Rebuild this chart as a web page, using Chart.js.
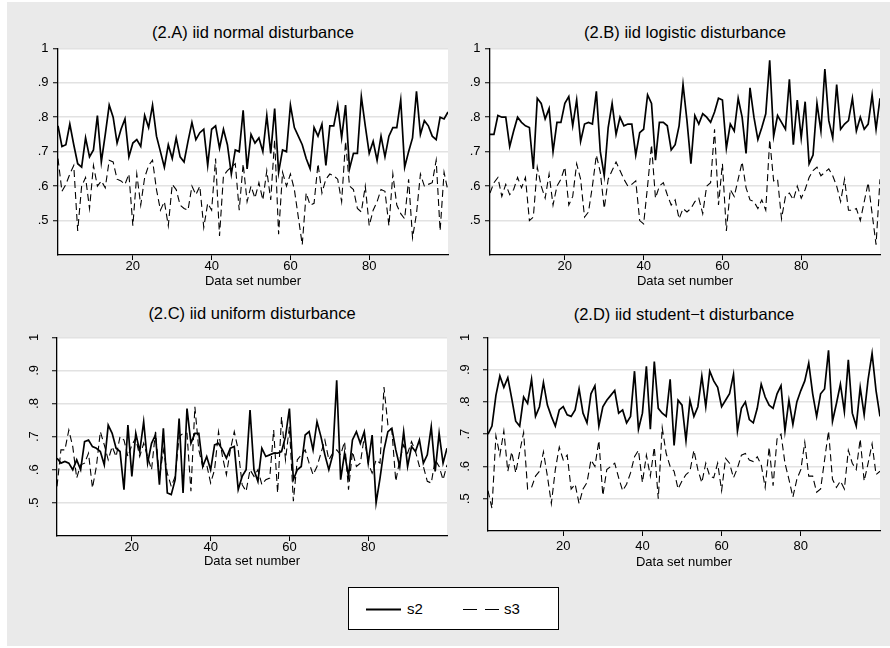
<!DOCTYPE html>
<html lang="en">
<head>
  <meta charset="UTF-8">
  <title>iid disturbances: s2 and s3 by data set</title>
  <script src="https://cdn.jsdelivr.net/npm/chart.js"></script>
  <style>
    body { margin: 0; background: #fff; font-family: "Liberation Sans", Arial, sans-serif; }
    #frame { position: absolute; left: 7px; top: 2px; width: 883px; height: 644px; background: #eaeaea; }
    canvas { position: absolute; }
    .ttl { position: absolute; width: 400px; text-align: center; font-size: 16.5px; line-height: 20px; color: #000; }
    #legend { position: absolute; left: 348px; top: 587px; width: 209px; height: 41px; background: #fff; border: 1.5px solid #000; }
    #legend svg { position: absolute; left: 0; top: 0; }
    #legend span { position: absolute; top: 12px; font-size: 15px; line-height: 18px; }
  </style>
</head>
<body>
  <div id="frame"></div>

  <div class="ttl" style="left:53px;top:22px">(2.A) iid normal disturbance</div>
  <div class="ttl" style="left:485px;top:22px">(2.B) iid logistic disturbance</div>
  <div class="ttl" style="left:52px;top:303px">(2.C) iid uniform disturbance</div>
  <div class="ttl" style="left:484px;top:304px">(2.D) iid student&#8722;t disturbance</div>

  <canvas id="chartA"></canvas>
  <canvas id="chartB"></canvas>
  <canvas id="chartC"></canvas>
  <canvas id="chartD"></canvas>

  <div id="legend">
    <svg width="209" height="41">
      <line x1="17" y1="21.5" x2="52" y2="21.5" stroke="#000" stroke-width="1.8"></line>
      <line x1="114" y1="21.5" x2="150" y2="21.5" stroke="#000" stroke-width="1.1" stroke-dasharray="14 8"></line>
    </svg>
    <span style="left:58px">s2</span>
    <span style="left:155px">s3</span>
  </div>

  <script>
    // data set number 1..100
    const dataSetNo = [
      1, 2, 3, 4, 5, 6, 7, 8, 9, 10, 11, 12, 13, 14, 15, 16, 17, 18, 19, 20,
      21, 22, 23, 24, 25, 26, 27, 28, 29, 30, 31, 32, 33, 34, 35, 36, 37, 38, 39, 40,
      41, 42, 43, 44, 45, 46, 47, 48, 49, 50, 51, 52, 53, 54, 55, 56, 57, 58, 59, 60,
      61, 62, 63, 64, 65, 66, 67, 68, 69, 70, 71, 72, 73, 74, 75, 76, 77, 78, 79, 80,
      81, 82, 83, 84, 85, 86, 87, 88, 89, 90, 91, 92, 93, 94, 95, 96, 97, 98, 99, 100
    ]

    const xTicks = [20, 40, 60, 80]
    const yTicks = [0.5, 0.6, 0.7, 0.8, 0.9, 1]
    const yTickLabels = ['.5', '.6', '.7', '.8', '.9', '1']

    // (2.A) normal
    const normalS2 = [
      .775, .715, .72, .78, .72, .665, .655, .74, .685, .705,
      .805, .67, .75, .835, .80, .725, .765, .795, .685, .725,
      .735, .715, .805, .77, .835, .745, .70, .655, .72, .68,
      .74, .685, .67, .73, .785, .735, .755, .765, .66, .765,
      .775, .71, .765, .72, .635, .705, .70, .82, .65, .75,
      .725, .74, .70, .805, .695, .825, .64, .705, .70, .835,
      .77, .745, .72, .68, .65, .77, .745, .78, .66, .775,
      .775, .835, .74, .835, .65, .695, .695, .86, .775, .695,
      .73, .675, .745, .685, .745, .77, .77, .85, .655, .70,
      .74, .875, .75, .79, .775, .745, .735, .80, .795, .815
    ]
    const normalS3 = [
      .68, .585, .605, .635, .66, .47, .60, .625, .535, .66,
      .60, .615, .595, .675, .67, .62, .615, .605, .635, .485,
      .635, .545, .625, .66, .675, .59, .53, .555, .485, .605,
      .59, .545, .535, .53, .60, .575, .60, .48, .55, .53,
      .68, .455, .63, .645, .655, .665, .53, .665, .555, .60,
      .565, .61, .56, .645, .56, .735, .46, .64, .60, .635,
      .59, .51, .43, .58, .545, .55, .665, .58, .62, .635,
      .63, .62, .555, .73, .60, .59, .535, .525, .60, .485,
      .53, .555, .59, .585, .485, .635, .545, .52, .505, .62,
      .45, .52, .635, .60, .605, .61, .675, .47, .64, .585
    ]

    // (2.B) logistic
    const logisticS2 = [
      .75, .75, .805, .80, .80, .715, .76, .80, .785, .775,
      .77, .65, .855, .84, .795, .825, .70, .785, .785, .84,
      .86, .775, .85, .73, .78, .785, .78, .875, .70, .63,
      .77, .84, .75, .80, .775, .78, .78, .69, .755, .765,
      .865, .84, .675, .785, .785, .775, .705, .72, .775, .895,
      .79, .665, .805, .78, .81, .80, .785, .815, .855, .85,
      .71, .78, .76, .855, .80, .695, .885, .80, .735, .77,
      .81, .965, .745, .805, .785, .765, .91, .72, .85, .74,
      .845, .665, .69, .84, .76, .94, .79, .74, .895, .765,
      .78, .79, .855, .76, .80, .765, .78, .865, .765, .855
    ]
    const logisticS3 = [
      .58, .61, .625, .57, .605, .575, .59, .625, .595, .625,
      .50, .51, .655, .60, .565, .635, .545, .60, .62, .655,
      .545, .57, .665, .62, .51, .525, .60, .69, .64, .535,
      .62, .645, .67, .645, .62, .60, .605, .615, .50, .49,
      .60, .72, .565, .60, .61, .575, .545, .56, .505, .535,
      .525, .535, .555, .565, .52, .60, .61, .765, .545, .665,
      .47, .59, .57, .62, .67, .595, .56, .555, .535, .56,
      .53, .735, .615, .62, .505, .57, .58, .56, .60, .565,
      .59, .625, .645, .655, .63, .64, .65, .63, .60, .555,
      .62, .53, .53, .535, .50, .555, .61, .52, .43, .62
    ]

    // (2.C) uniform
    const uniformS2 = [
      .635, .62, .625, .62, .60, .63, .60, .685, .69, .67,
      .665, .655, .615, .735, .71, .665, .655, .54, .735, .58,
      .71, .655, .745, .62, .68, .705, .555, .725, .53, .525,
      .57, .755, .53, .785, .68, .71, .71, .61, .64, .60,
      .675, .68, .66, .635, .665, .67, .54, .58, .60, .78,
      .60, .565, .665, .64, .645, .65, .65, .655, .70, .785,
      .57, .60, .61, .705, .715, .66, .745, .70, .645, .60,
      .645, .87, .57, .65, .58, .69, .715, .68, .715, .62,
      .705, .50, .575, .66, .715, .725, .66, .61, .715, .61,
      .67, .655, .69, .62, .645, .73, .595, .71, .62, .665
    ]
    const uniformS3 = [
      .55, .66, .66, .72, .67, .575, .615, .62, .65, .545,
      .61, .715, .675, .63, .67, .64, .70, .69, .64, .675,
      .695, .64, .68, .64, .60, .715, .575, .66, .59, .55,
      .58, .70, .71, .71, .535, .79, .66, .61, .615, .56,
      .60, .715, .64, .585, .66, .715, .66, .555, .535, .60,
      .58, .60, .555, .57, .575, .72, .53, .76, .63, .73,
      .505, .63, .645, .66, .62, .585, .61, .65, .69, .63,
      .65, .66, .645, .685, .54, .655, .61, .62, .70, .62,
      .59, .63, .62, .85, .735, .72, .565, .63, .675, .65,
      .685, .655, .61, .61, .565, .56, .63, .61, .57, .615
    ]

    // (2.D) student-t
    const studentS2 = [
      .70, .725, .82, .88, .845, .875, .81, .74, .725, .815,
      .795, .87, .755, .785, .86, .79, .755, .725, .775, .785,
      .76, .755, .775, .84, .765, .735, .825, .85, .725, .785,
      .805, .82, .835, .765, .775, .735, .755, .895, .715, .765,
      .91, .715, .925, .78, .765, .755, .87, .665, .805, .79,
      .68, .805, .755, .785, .88, .785, .895, .865, .845, .785,
      .805, .825, .885, .71, .78, .80, .745, .735, .78, .855,
      .815, .79, .78, .825, .85, .71, .805, .73, .80, .835,
      .865, .92, .825, .755, .825, .84, .96, .74, .795, .855,
      .77, .93, .765, .725, .845, .76, .87, .95, .835, .755
    ]
    const studentS3 = [
      .525, .47, .695, .635, .71, .585, .645, .58, .645, .705,
      .53, .535, .57, .585, .645, .57, .485, .59, .66, .62,
      .635, .53, .545, .485, .53, .55, .62, .60, .68, .51,
      .59, .60, .61, .565, .525, .545, .58, .63, .65, .55,
      .635, .57, .66, .50, .72, .64, .60, .585, .53, .555,
      .575, .585, .65, .59, .55, .61, .57, .565, .61, .525,
      .625, .61, .565, .595, .635, .64, .62, .615, .63, .605,
      .535, .66, .54, .685, .70, .61, .56, .505, .56, .59,
      .675, .57, .57, .52, .53, .62, .71, .56, .535, .555,
      .53, .65, .61, .59, .685, .555, .61, .67, .575, .585
    ]

    // white plot region behind the lines
    const plotBg = {
      id: 'plotBg',
      beforeDraw(chart) {
        const a = chart.chartArea
        const ctx = chart.ctx
        ctx.save()
        ctx.fillStyle = '#fff'
        ctx.fillRect(a.left, a.top, a.right - a.left, a.bottom - a.top)
        ctx.restore()
      }
    }

    const toPoints = vals => dataSetNo.map((x, i) => ({ x: x, y: vals[i] }))

    const makePanel = (id, box, s2, s3) => {
      const yW = 40, padT = 10, padR = 6
      const cv = document.getElementById(id)
      cv.width = yW + (box.right - box.left) + padR
      cv.height = padT + (box.bottom - box.top) + box.xH
      cv.style.left = (box.left - yW) + 'px'
      cv.style.top = (box.top - padT) + 'px'

      return new Chart(cv, {
        type: 'line',
        data: {
          datasets: [
            {
              label: 's2',
              data: toPoints(s2),
              borderColor: '#000',
              borderWidth: 1.7,
              pointRadius: 0,
              tension: 0
            },
            {
              label: 's3',
              data: toPoints(s3),
              borderColor: '#000',
              borderWidth: 1.1,
              borderDash: [7, 4],
              pointRadius: 0,
              tension: 0
            }
          ]
        },
        options: {
          responsive: false,
          animation: false,
          devicePixelRatio: 1,
          layout: { padding: { top: padT, right: padR, left: 0, bottom: 0 } },
          plugins: { legend: { display: false }, tooltip: { enabled: false } },
          scales: {
            x: {
              type: 'linear',
              min: 1,
              max: 100,
              afterBuildTicks: s => { s.ticks = xTicks.map(v => ({ value: v })) },
              afterFit: s => { s.height = box.xH },
              grid: { drawOnChartArea: false, drawTicks: true, tickLength: 5, tickColor: '#000', tickWidth: 1 },
              border: { color: '#000', width: 1.3 },
              ticks: { color: '#000', font: { size: 13 }, padding: box.xPad, maxRotation: 0, autoSkip: false },
              title: { display: true, text: 'Data set number', color: '#000', font: { size: 13 }, padding: 0 }
            },
            y: {
              min: 0.4,
              max: 1,
              afterBuildTicks: s => { s.ticks = yTicks.map(v => ({ value: v })) },
              afterFit: s => { s.width = yW },
              grid: { color: '#e2e2e2', lineWidth: 1.5, tickLength: 5, tickColor: '#000', tickWidth: 1 },
              border: { color: '#000', width: 1.3 },
              ticks: {
                color: '#000',
                font: { size: 13 },
                padding: box.rotated ? 12.5 : 4.5,
                minRotation: box.rotated ? 90 : 0,
                maxRotation: box.rotated ? 90 : 0,
                crossAlign: box.rotated ? 'center' : 'near',
                callback: v => yTickLabels[yTicks.indexOf(v)]
              }
            }
          }
        },
        plugins: [plotBg]
      })
    }

    makePanel('chartA', { left: 58, right: 448, top: 46, bottom: 255, xH: 34, xPad: -1, rotated: false }, normalS2, normalS3)
    makePanel('chartB', { left: 490, right: 880, top: 46, bottom: 255, xH: 34, xPad: -1, rotated: false }, logisticS2, logisticS3)
    makePanel('chartC', { left: 57, right: 447, top: 327, bottom: 536, xH: 33, xPad: -1, rotated: true }, uniformS2, uniformS3)
    makePanel('chartD', { left: 488, right: 880, top: 327, bottom: 531, xH: 39, xPad: 3, rotated: true }, studentS2, studentS3)
  </script>
</body>
</html>
